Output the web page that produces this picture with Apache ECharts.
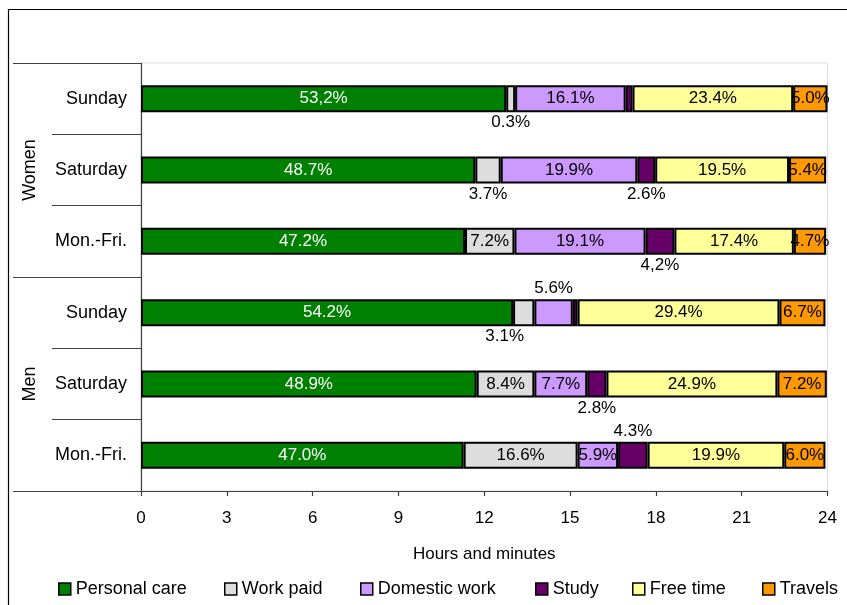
<!DOCTYPE html>
<html>
<head>
<meta charset="utf-8">
<script src="https://cdn.jsdelivr.net/npm/echarts@6/dist/echarts.min.js"></script>
<style>
html,body{margin:0;padding:0;background:#fff;}
#chart{width:847px;height:605px;}
</style>
</head>
<body>
<div id="chart"></div>
<script>
// ---- Data (percent of the 24-hour day), rows bottom to top ----
const categories = ['Mon.-Fri.', 'Saturday', 'Sunday', 'Mon.-Fri.', 'Saturday', 'Sunday'];
const groups = ['Men', 'Women'];
const seriesNames = ['Personal care', 'Work paid', 'Domestic work', 'Study', 'Free time', 'Travels'];

const personalCare = [47.0, 48.9, 54.2, 47.2, 48.7, 53.2];
const workPaid     = [16.6, 8.4, 3.1, 7.2, 3.7, 1.3];
const domesticWork = [5.9, 7.7, 5.6, 19.1, 19.9, 16.1];
const study        = [4.3, 2.8, 0.7, 4.2, 2.6, 1.0];
const freeTime     = [19.9, 24.9, 29.4, 17.4, 19.5, 23.4];
const travels      = [6.0, 7.2, 6.7, 4.7, 5.4, 5.0];

const personalCareLabels = ['47.0%', '48.9%', '54.2%', '47.2%', '48.7%', '53,2%'];
const workPaidLabels     = ['16.6%', '8.4%', '3.1%', '7.2%', '3.7%', '0.3%'];
const domesticWorkLabels = ['5.9%', '7.7%', '5.6%', '19.1%', '19.9%', '16.1%'];
const studyLabels        = ['4.3%', '2.8%', '', '4,2%', '2.6%', ''];
const freeTimeLabels     = ['19.9%', '24.9%', '29.4%', '17.4%', '19.5%', '23.4%'];
const travelsLabels      = ['6.0%', '7.2%', '6.7%', '4.7%', '5.4%', '5.0%'];

const xTicks = [0, 3, 6, 9, 12, 15, 18, 21, 24];

// ---- Styling ----
const colors = ['#008000', '#DDDDDD', '#CC99FF', '#660066', '#FFFF99', '#FF9900'];
const labelColors = ['#ffffff', '#000', '#000', '#000', '#000', '#000'];
const FONT = 'Liberation Sans, Arial, sans-serif';
const labelOverrides = [
  {},
  {2: {position: 'bottom', offset: [-19, 0]}, 4: {position: 'bottom'}, 5: {position: 'bottom'}},
  {2: {position: 'top'}},
  {0: {position: 'top'}, 1: {position: 'bottom'}, 3: {position: 'bottom'}, 4: {position: 'bottom'}},
  {},
  {}
];
const legendLefts = [58, 224, 360, 535, 632, 762];

const valueSets = [personalCare, workPaid, domesticWork, study, freeTime, travels];
const labelSets = [personalCareLabels, workPaidLabels, domesticWorkLabels, studyLabels, freeTimeLabels, travelsLabels];

const series = seriesNames.map((name, s) => ({
  name: name,
  type: 'bar',
  stack: 'total',
  barWidth: 27,
  yAxisIndex: 0,
  itemStyle: {color: colors[s], borderColor: '#000', borderWidth: 2},
  label: {
    show: true,
    position: 'inside',
    distance: 2,
    color: labelColors[s],
    fontFamily: FONT,
    fontSize: 17,
    formatter: p => labelSets[s][p.dataIndex]
  },
  data: valueSets[s].map((v, i) => {
    const item = {value: v * 24 / 100};
    const txt = labelSets[s][i];
    const ov = labelOverrides[s][i];
    if (!txt) item.label = {show: false};
    else if (ov) item.label = Object.assign({color: '#000'}, ov);
    return item;
  })
}));

const legends = seriesNames.map((name, s) => ({
  data: [name],
  left: legendLefts[s],
  top: 580,
  padding: 0,
  itemWidth: 12,
  itemHeight: 12,
  itemGap: 0,
  icon: 'rect',
  itemStyle: {borderColor: '#000', borderWidth: 1.5},
  textStyle: {fontFamily: FONT, fontSize: 18, color: '#000'},
  selectedMode: false
}));

const chart = echarts.init(document.getElementById('chart'), null, {renderer: 'canvas'});
chart.setOption({
  backgroundColor: '#fff',
  animation: false,
  textStyle: {fontFamily: FONT},
  graphic: [{
    type: 'polyline',
    shape: {points: [[8.5, 605], [8.5, 9.5], [847, 9.5]]},
    style: {stroke: '#000', lineWidth: 1.2, fill: null},
    silent: true
  }],
  legend: legends,
  grid: {left: 141, right: 19.5, top: 63, bottom: 114, show: true, borderColor: '#dcdcdc', borderWidth: 1},
  xAxis: {
    type: 'value',
    min: xTicks[0],
    max: xTicks[xTicks.length - 1],
    interval: 3,
    name: 'Hours and minutes',
    nameLocation: 'middle',
    nameGap: 55,
    nameTextStyle: {fontFamily: FONT, fontSize: 17, color: '#000'},
    axisLine: {show: true, lineStyle: {color: '#404040', width: 1.2}},
    axisTick: {show: true, length: 5, lineStyle: {color: '#404040', width: 1.2}},
    axisLabel: {fontFamily: FONT, fontSize: 17, color: '#000', margin: 19},
    splitLine: {show: false}
  },
  yAxis: [{
    type: 'category',
    data: categories,
    position: 'left',
    axisLine: {show: true, lineStyle: {color: '#404040', width: 1.2}},
    axisTick: {show: true, length: 89, interval: 0, lineStyle: {color: '#404040', width: 1.2}},
    axisLabel: {fontFamily: FONT, fontSize: 18, color: '#000', margin: 14, interval: 0},
    splitLine: {show: false}
  }, {
    type: 'category',
    data: groups,
    position: 'left',
    axisLine: {show: false},
    axisTick: {show: true, length: 128, interval: 0, lineStyle: {color: '#404040', width: 1.2}},
    axisLabel: {fontFamily: FONT, fontSize: 18, color: '#000', rotate: 90, margin: 102, interval: 0},
    splitLine: {show: false}
  }],
  series: series
});
</script>
</body>
</html>
